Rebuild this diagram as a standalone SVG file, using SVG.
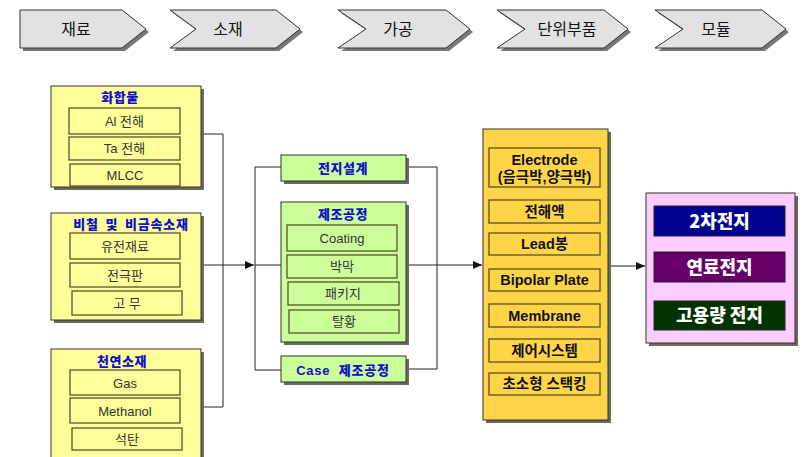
<svg xmlns="http://www.w3.org/2000/svg" width="802" height="457" viewBox="0 0 802 457">
<defs>
<style>
.chev{fill:#e2e2e2;stroke:#333;stroke-width:1}
.chs{fill:#777}
.sh{fill:#6b6b5a}
.ly{fill:#ffff99;stroke:#333;stroke-width:1}
.gr{fill:#ccff99;stroke:#333;stroke-width:1}
.gd{fill:#ffd447;stroke:#333;stroke-width:1}
.pk{fill:#ffccff;stroke:#333;stroke-width:1}
.in{fill:none;stroke:#4d4526;stroke-width:1.2}
.t{font-family:"Liberation Sans","Noto Sans CJK KR",sans-serif;text-anchor:middle}
.ch{font-size:16px;fill:#111;font-family:"Noto Sans CJK KR",sans-serif;text-anchor:middle}
.ti{font-size:13px;font-weight:900;fill:#1010cc;font-family:"Noto Sans CJK KR","Liberation Sans",sans-serif;text-anchor:middle;letter-spacing:0.5px}
.it{font-size:13px;fill:#333}
.bt{font-size:14.5px;font-weight:bold;fill:#111;font-family:"Liberation Sans","Noto Sans CJK KR",sans-serif;text-anchor:middle}
.wt{font-size:18px;font-weight:900;fill:#fff;font-family:"Noto Sans CJK KR","Liberation Sans",sans-serif;text-anchor:middle}
.ln{fill:none;stroke:#222;stroke-width:1}
</style>
<marker id="ar" markerWidth="10" markerHeight="8" refX="9" refY="4" orient="auto" markerUnits="userSpaceOnUse">
<path d="M0,0 L9,4 L0,8 Z" fill="#111"/>
</marker>
</defs>
<rect width="802" height="457" fill="#fff"/>

<g id="stages">
<g id="stage1">
<polygon class="chs" points="23,13 125,13 149,32 125,51 23,51"/>
<polygon class="chev" points="20,10 122,10 146,29 122,48 20,48"/>
<text class="ch" x="76" y="35">재료</text>
</g>
<g id="stage2">
<polygon class="chs" points="173,13 279,13 303,32 279,51 173,51 199,32"/>
<polygon class="chev" points="170,10 276,10 300,29 276,48 170,48 196,29"/>
<text class="ch" x="228" y="35">소재</text>
</g>
<g id="stage3">
<polygon class="chs" points="341,13 449,13 473,32 449,51 341,51 369,32"/>
<polygon class="chev" points="338,10 446,10 470,29 446,48 338,48 366,29"/>
<text class="ch" x="398" y="35">가공</text>
</g>
<g id="stage4">
<polygon class="chs" points="500,13 607,13 631,32 607,51 500,51 528,32"/>
<polygon class="chev" points="497,10 604,10 628,29 604,48 497,48 525,29"/>
<text class="ch" x="567" y="35">단위부품</text>
</g>
<g id="stage5">
<polygon class="chs" points="658,13 765,13 789,32 765,51 658,51 686,32"/>
<polygon class="chev" points="655,10 762,10 786,29 762,48 655,48 683,29"/>
<text class="ch" x="716" y="35">모듈</text>
</g>
</g>

<g id="connectors">
<path class="ln" d="M201,134 H223 V407 M201,407 H223 M201,265 H223"/>
<path class="ln" d="M223,265 H254" marker-end="url(#ar)"/>
<path class="ln" d="M255,167 V370 M255,167 H281 M255,265 H281 M255,370 H281"/>
<path class="ln" d="M406,167 H437 V369 M406,265 H437 M406,369 H437"/>
<path class="ln" d="M437,265 H482" marker-end="url(#ar)"/>
<path class="ln" d="M608,266 H645" marker-end="url(#ar)"/>
</g>

<g id="compound">
<rect class="sh" x="54" y="89" width="150" height="101"/>
<rect class="ly" x="51" y="86" width="150" height="101"/>
<text class="ti" x="120" y="102">화합물</text>
<rect class="in" x="69" y="108" width="111" height="26"/>
<text class="t it" x="124.5" y="126">Al 전해</text>
<rect class="in" x="69" y="137" width="111" height="23"/>
<text class="t it" x="124.5" y="153">Ta 전해</text>
<rect class="in" x="70" y="164" width="110" height="22"/>
<text class="t it" x="125" y="180">MLCC</text>
</g>

<g id="nonferrous">
<rect class="sh" x="54" y="216" width="150" height="107"/>
<rect class="ly" x="51" y="213" width="150" height="107"/>
<text class="ti" x="131" y="229" style="letter-spacing:0.8px;word-spacing:3px">비철 및 비금속소재</text>
<rect class="in" x="70" y="233" width="110" height="26"/>
<text class="t it" x="125" y="251">유전재료</text>
<rect class="in" x="70" y="263" width="110" height="24"/>
<text class="t it" x="125" y="280">전극판</text>
<rect class="in" x="72" y="291" width="110" height="24"/>
<text class="t it" x="127" y="308">고  무</text>
</g>

<g id="natural">
<rect class="sh" x="54" y="352" width="150" height="112"/>
<rect class="ly" x="51" y="349" width="150" height="112"/>
<text class="ti" x="122" y="366">천연소재</text>
<rect class="in" x="70" y="370" width="110" height="25"/>
<text class="t it" x="125" y="388">Gas</text>
<rect class="in" x="70" y="398" width="110" height="25"/>
<text class="t it" x="125" y="416">Methanol</text>
<rect class="in" x="72" y="428" width="110" height="22"/>
<text class="t it" x="127" y="444">석탄</text>
</g>

<g id="design">
<rect class="sh" x="284" y="158" width="125" height="26"/>
<rect class="gr" x="281" y="155" width="125" height="26"/>
<text class="ti" x="343" y="173">전지설계</text>
</g>

<g id="process">
<rect class="sh" x="284" y="205" width="125" height="140"/>
<rect class="gr" x="281" y="202" width="125" height="140"/>
<text class="ti" x="343" y="219">제조공정</text>
<rect class="in" x="287" y="225" width="110" height="26"/>
<text class="t it" x="342" y="243">Coating</text>
<rect class="in" x="287" y="255" width="110" height="23"/>
<text class="t it" x="342" y="271">박막</text>
<rect class="in" x="288" y="282" width="111" height="23"/>
<text class="t it" x="343" y="298">패키지</text>
<rect class="in" x="289" y="310" width="110" height="23"/>
<text class="t it" x="344" y="326">탈황</text>
</g>

<g id="case">
<rect class="sh" x="284" y="359" width="125" height="26"/>
<rect class="gr" x="281" y="356" width="125" height="26"/>
<text class="ti" x="343" y="375" style="font-family:'Liberation Sans','Noto Sans CJK KR',sans-serif;letter-spacing:0.8px;word-spacing:4px">Case 제조공정</text>
</g>

<g id="parts">
<rect class="sh" x="486" y="132" width="125" height="291" fill="#888"/>
<rect class="gd" x="483" y="129" width="125" height="291"/>
<rect class="in" x="489" y="148" width="111" height="39"/>
<text class="bt" x="544.5" y="165">Electrode</text>
<text class="bt" x="544.5" y="182">(음극박,양극박)</text>
<rect class="in" x="489" y="200" width="111" height="23"/>
<text class="bt" x="544.5" y="217">전해액</text>
<rect class="in" x="489" y="233" width="111" height="22"/>
<text class="bt" x="544.5" y="249">Lead봉</text>
<rect class="in" x="489" y="269" width="111" height="22"/>
<text class="bt" x="544.5" y="285">Bipolar Plate</text>
<rect class="in" x="489" y="304" width="111" height="23"/>
<text class="bt" x="544.5" y="321">Membrane</text>
<rect class="in" x="489" y="339" width="111" height="23"/>
<text class="bt" x="544.5" y="356">제어시스템</text>
<rect class="in" x="489" y="373" width="111" height="22"/>
<text class="bt" x="544.5" y="389">초소형 스택킹</text>
</g>

<g id="products">
<rect class="sh" x="649" y="196" width="149" height="150" fill="#777"/>
<rect class="pk" x="646" y="193" width="149" height="150"/>
<rect x="654" y="206" width="131" height="30" fill="#000090" stroke="#223" stroke-width="1"/>
<text class="wt" x="719.5" y="228">2차전지</text>
<rect x="654" y="252" width="131" height="30" fill="#660066" stroke="#223" stroke-width="1"/>
<text class="wt" x="719.5" y="274">연료전지</text>
<rect x="654" y="301" width="131" height="29" fill="#003300" stroke="#223" stroke-width="1"/>
<text class="wt" x="719.5" y="322">고용량 전지</text>
</g>
</svg>
